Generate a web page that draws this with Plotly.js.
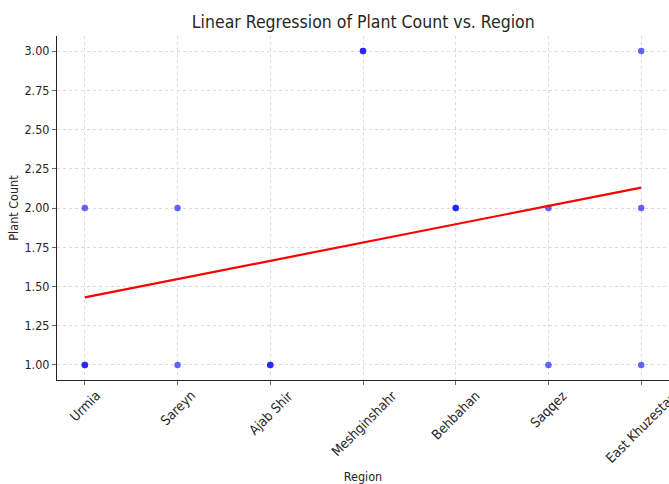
<!DOCTYPE html>
<html>
<head>
<meta charset="utf-8">
<script src="https://cdn.plot.ly/plotly-3.0.1.min.js"></script>
<style>html,body{margin:0;padding:0;background:#fff;}#chart{width:669px;height:484px;}</style>
</head>
<body>
<div id="chart"></div>
<script>
const regions = ["Urmia", "Sareyn", "Ajab Shir", "Meshginshahr", "Behbahan", "Saqqez", "East Khuzestan"];
const pointRegions = ["Urmia", "Urmia", "Urmia", "Sareyn", "Sareyn", "Ajab Shir", "Ajab Shir", "Meshginshahr", "Meshginshahr", "Behbahan", "Behbahan", "Saqqez", "Saqqez", "East Khuzestan", "East Khuzestan", "East Khuzestan"];
const plantCounts = [1, 1, 2, 1, 2, 1, 1, 3, 3, 2, 2, 1, 2, 1, 2, 3];
const fitRegions = ["Urmia", "East Khuzestan"];
const fitValues = [1.43, 2.13];
const yTicks = [1.00, 1.25, 1.50, 1.75, 2.00, 2.25, 2.50, 2.75, 3.00];

const font = "DejaVu Sans Condensed, DejaVu Sans, sans-serif";
const textColor = "#262626";
const traces = [
  {
    x: pointRegions, y: plantCounts, type: "scatter", mode: "markers",
    marker: {color: "blue", size: 6.5, opacity: 0.6},
    showlegend: false, hoverinfo: "skip"
  },
  {
    x: fitRegions, y: fitValues, type: "scatter", mode: "lines",
    line: {color: "red", width: 2.2},
    showlegend: false, hoverinfo: "skip"
  }
];
const tickAnnotations = regions.map(r => ({
  x: r, xref: "x", y: 0, yref: "paper",
  text: r, textangle: -45, showarrow: false,
  xanchor: "center", yanchor: "top", yshift: -5,
  font: {size: 13.5, family: font, color: textColor}
}));
const layout = {
  width: 669, height: 484,
  margin: {l: 57, r: 0, t: 36, b: 104},
  paper_bgcolor: "#fff", plot_bgcolor: "#fff",
  font: {family: font, color: textColor, size: 12},
  title: {text: "Linear Regression of Plant Count vs. Region", x: 0.543, xanchor: "center", y: 0.955, yanchor: "middle", font: {size: 17.5, family: font, color: textColor}},
  xaxis: {
    type: "category", categoryorder: "array", categoryarray: regions,
    range: [-0.3, 6.3],
    showline: true, linecolor: "#222", linewidth: 1, mirror: false,
    ticks: "outside", ticklen: 4, tickcolor: "#666",
    showticklabels: false,
    showgrid: true, gridcolor: "#dcdcdc", griddash: "dot", gridwidth: 1,
    zeroline: false,
    title: {text: "Region", font: {size: 12.5, family: font, color: textColor}, standoff: 89}
  },
  yaxis: {
    range: [0.904, 3.096],
    tickvals: yTicks, tickformat: ".2f",
    showline: true, linecolor: "#222", linewidth: 1, mirror: false,
    ticks: "outside", ticklen: 4, tickcolor: "#666",
    tickfont: {size: 12.5, family: font, color: textColor},
    showgrid: true, gridcolor: "#dcdcdc", griddash: "dot", gridwidth: 1,
    zeroline: false,
    title: {text: "Plant Count", font: {size: 12.5, family: font, color: textColor}, standoff: 3}
  },
  annotations: tickAnnotations
};
Plotly.newPlot("chart", traces, layout, {displayModeBar: false, staticPlot: true});
</script>
</body>
</html>
